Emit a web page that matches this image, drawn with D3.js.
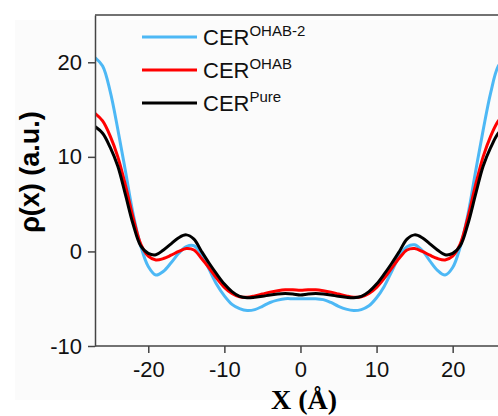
<!DOCTYPE html>
<html lang="en">
<head>
    <meta charset="utf-8">
    <script src="https://d3js.org/d3.v7.min.js"></script>
</head>
<style>
    body { margin: 0; background: #fff; }
    .tick text { font-family: "Liberation Sans", Arial, sans-serif; font-size: 22px; fill: #111; }
</style>
<body>
<script>
    const w = 498
    const h = 416

    // x positions (Å)
    const xs = [-27,-26,-25,-24,-23,-22,-21,-20,-19,-18,-17,-16,-15,-14,-13,-12,-11,-10,-9,-8,-7,-6,-5,-4,-3,-2,-1,
                0,1,2,3,4,5,6,7,8,9,10,11,12,13,14,15,16,17,18,19,20,21,22,23,24,25,26,27]

    // CER OHAB-2 (blue)
    const ohab2 = [20.5,19.6,16.9,12.9,8.5,4.0,0.6,-1.6,-2.5,-2.1,-1.2,-0.2,0.5,0.6,-0.3,-1.9,-3.5,-4.7,-5.6,-6.05,-6.25,-6.15,-5.8,-5.4,-5.15,-5.0,-5.0,
                   -5.0,-5.0,-5.0,-5.1,-5.4,-5.8,-6.1,-6.25,-6.15,-5.75,-4.9,-3.7,-2.1,-0.5,0.5,0.7,0.1,-1.0,-2.0,-2.5,-1.7,0.5,3.9,8.4,12.8,16.8,19.6,20.5]
    // CER OHAB (red)
    const ohab = [14.6,13.8,12.2,10.0,7.0,3.6,0.8,-0.5,-0.9,-0.75,-0.4,0.0,0.3,0.15,-0.75,-1.75,-2.85,-3.8,-4.45,-4.8,-4.85,-4.7,-4.5,-4.3,-4.15,-4.05,-4.05,
                  -4.1,-4.05,-4.05,-4.15,-4.3,-4.5,-4.7,-4.85,-4.8,-4.45,-3.8,-2.85,-1.75,-0.7,0.15,0.3,0.0,-0.4,-0.75,-0.9,-0.5,0.8,3.6,7.0,10.0,12.2,13.8,14.6]
    // CER Pure (black)
    const pure = [13.2,12.5,11.0,9.0,6.0,2.9,0.6,-0.2,-0.35,0.15,0.8,1.45,1.75,1.3,0.0,-1.25,-2.4,-3.45,-4.25,-4.75,-4.9,-4.85,-4.75,-4.6,-4.5,-4.45,-4.5,
                  -4.6,-4.5,-4.45,-4.5,-4.6,-4.75,-4.85,-4.9,-4.75,-4.25,-3.45,-2.4,-1.25,0.0,1.3,1.75,1.45,0.8,0.15,-0.35,-0.2,0.6,2.9,6.0,9.0,11.0,12.5,13.2]

    const xTicks = [-20, -10, 0, 10, 20]
    const yTicks = [-10, 0, 10, 20]

    const series = [
        {name: "OHAB-2", vals: ohab2, color: "#4DB8F5"},
        {name: "OHAB", vals: ohab, color: "#FF0000"},
        {name: "Pure", vals: pure, color: "#000000"}
    ]

    const padL = 95, padT = 15, axisY = 346

    var svg = d3.select("body")
        .append("svg")
        .attr("width", w)
        .attr("height", h)

    // faint background texture
    svg.append("rect")
        .attr("x", 15).attr("y", 20)
        .attr("width", w - 15).attr("height", 380)
        .attr("fill", "#fbfbfb")

    let xScale = d3.scaleLinear().domain([-27, 27]).range([padL, padL + 54 * 7.61])
    let yScale = d3.scaleLinear().domain([-10, 25]).range([axisY, padT])

    svg.append("clipPath").attr("id", "clip")
        .append("rect")
        .attr("x", padL).attr("y", padT)
        .attr("width", w - padL).attr("height", axisY - padT)

    const line = d3.line()
        .x((d, i) => xScale(xs[i]))
        .y(d => yScale(d))
        .curve(d3.curveCatmullRom.alpha(0.5))

    svg.append("g").attr("clip-path", "url(#clip)")
        .selectAll("path")
        .data(series)
        .enter()
        .append("path")
        .attr("d", d => line(d.vals))
        .attr("fill", "none")
        .attr("stroke", d => d.color)
        .attr("stroke-width", 3)

    // axes (plain hyphen minus like the original)
    const fmt = d => String(d)
    const xAxis = svg.append("g")
        .attr("transform", "translate(0," + axisY + ")")
        .call(d3.axisBottom(xScale).tickValues(xTicks).tickFormat(fmt).tickSize(7).tickPadding(8).tickSizeOuter(0))
    const yAxis = svg.append("g")
        .attr("transform", "translate(" + padL + ",0)")
        .call(d3.axisLeft(yScale).tickValues(yTicks).tickFormat(fmt).tickSize(7).tickPadding(6).tickSizeOuter(0))

    for (const ax of [xAxis, yAxis]) {
        ax.select(".domain").attr("stroke", "#444").attr("stroke-width", 1.5)
        ax.selectAll(".tick line").attr("stroke", "#444").attr("stroke-width", 1.5)
    }
    xAxis.select(".domain").attr("d", "M" + padL + ",0H" + w)

    // top frame line
    svg.append("line")
        .attr("x1", padL).attr("x2", w)
        .attr("y1", padT).attr("y2", padT)
        .attr("stroke", "#444").attr("stroke-width", 1.5)

    // axis titles
    svg.append("text")
        .attr("transform", "translate(39,172) rotate(-90)")
        .attr("text-anchor", "middle")
        .attr("font-family", "Liberation Sans, Arial, sans-serif")
        .attr("font-weight", "bold")
        .attr("font-size", 27)
        .text("ρ(x) (a.u.)")

    svg.append("text")
        .attr("x", 304).attr("y", 409)
        .attr("text-anchor", "middle")
        .attr("font-family", "Liberation Serif, Times New Roman, serif")
        .attr("font-weight", "bold")
        .attr("font-size", 28)
        .text("X (Å)")

    // legend
    const legY = [37, 70, 103]
    const leg = svg.selectAll(".leg")
        .data(series)
        .enter()
        .append("g")
        .attr("transform", (d, i) => "translate(0," + legY[i] + ")")
    leg.append("line")
        .attr("x1", 142).attr("x2", 197)
        .attr("stroke", d => d.color)
        .attr("stroke-width", 3)
    const lt = leg.append("text")
        .attr("x", 203).attr("y", 8)
        .attr("font-family", "Liberation Sans, Arial, sans-serif")
        .attr("font-size", 22)
        .attr("fill", "#111")
    lt.append("tspan").text("CER")
    lt.append("tspan")
        .attr("dy", -9)
        .attr("font-size", 15)
        .text(d => d.name)
</script>
</body>
</html>
